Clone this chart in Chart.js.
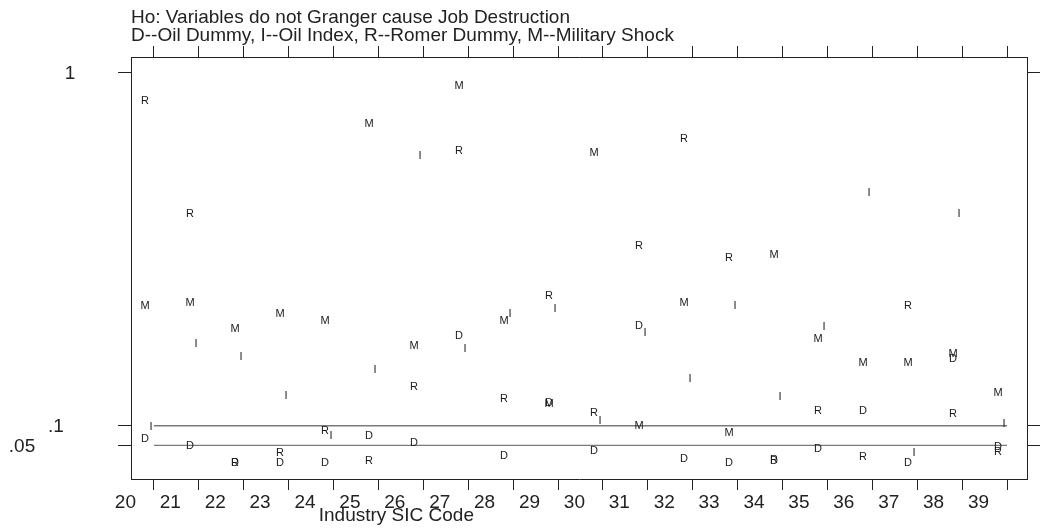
<!DOCTYPE html>
<html lang="en">
<head>
  <meta charset="UTF-8" />
  <title>Granger causality tests by industry</title>
  <script src="https://cdn.jsdelivr.net/npm/chart.js"></script>
  <style>
    html, body { margin: 0; padding: 0; background: #fff; }
    #wrap { width: 1045px; height: 529px; position: relative; }
  </style>
</head>
<body>
  <div id="wrap"><canvas id="chart"></canvas></div>

  <script>
    // values
    const sicCodes = [20, 21, 22, 23, 24, 25, 26, 27, 28, 29, 30, 31, 32, 33, 34, 35, 36, 37, 38, 39];
    const oilDummy      = [.068, .052, .008, .008, .008, .077, .059, .331, .025, .161, .037, .356, .018, .008, .012, .043, .140, .008, .272, .048];
    const oilIndex      = [.100, .311, .278, .178, .076, .244, .789, .298, .388, .400, .115, .340, .222, .407, .177, .354, .695, .033, .641, .107];
    const romerDummy    = [.929, .642, .008, .033, .089, .012, .201, .803, .171, .433, .136, .561, .833, .530, .015, .140, .022, .407, .132, .036];
    const militaryShock = [.407, .415, .349, .388, .369, .872, .306, .968, .369, .157, .797, .102, .415, .084, .537, .323, .262, .262, .286, .186];
    const refLevels = [0.1, 0.05];
    const yTickValues = [1, 0.1, 0.05];
    const yTickLabels = ['1', '.1', '.05'];
    const titleLines = [
      'Ho: Variables do not Granger cause Job Destruction',
      'D--Oil Dummy, I--Oil Index, R--Romer Dummy, M--Military Shock'
    ];
    const xTitle = 'Industry SIC Code';

    // look
    const FONT = '"Liberation Sans", Arial, sans-serif';
    const INK = '#222';
    const yLabelX = [70, 56, 22];

    function pts(vals) {
      return sicCodes.map((s, i) => ({ x: s, y: vals[i] }));
    }

    // marker letter and its nudge left of the point, as in the original
    function letterSet(label, ch, vals, dx) {
      return {
        label, data: pts(vals), showLine: false,
        pointStyle: false, pointRadius: 5, order: 1,
        marker: ch, markerDx: dx
      };
    }

    function refLine(v) {
      return {
        label: 'ref ' + v,
        data: [{ x: sicCodes[0], y: v }, { x: sicCodes[sicCodes.length - 1], y: v }],
        showLine: true, pointRadius: 0, borderColor: '#7a7a7a', borderWidth: 1.3, order: 2
      };
    }

    // letters sit on the points the library placed
    const letterPlugin = {
      id: 'letterPlugin',
      afterDatasetsDraw(chart) {
        const ctx = chart.ctx;
        ctx.save();
        ctx.font = '11px ' + FONT;
        ctx.fillStyle = '#1a1a1a';
        ctx.textAlign = 'center';
        ctx.textBaseline = 'alphabetic';
        chart.data.datasets.forEach((ds, i) => {
          if (!ds.marker) return;
          chart.getDatasetMeta(i).data.forEach(pt => {
            ctx.fillText(ds.marker, Math.round(pt.x + ds.markerDx), Math.round(pt.y + 4));
          });
        });
        ctx.restore();
      }
    };

    const textPlugin = {
      id: 'textPlugin',
      afterDraw(chart) {
        const ctx = chart.ctx;
        const ys = chart.scales.y;
        const xs = chart.scales.x;
        ctx.save();
        ctx.fillStyle = INK;
        ctx.font = '19px ' + FONT;
        ctx.textBaseline = 'middle';
        ctx.textAlign = 'left';
        titleLines.forEach((t, i) => ctx.fillText(t, chart.chartArea.left, 18 + i * 18));
        ctx.textAlign = 'center';
        yTickValues.forEach((v, i) => ctx.fillText(yTickLabels[i], yLabelX[i], ys.getPixelForValue(v) + 1));
        ctx.fillText(xTitle, xs.getPixelForValue(25.4), 516);
        ctx.restore();
      }
    };

    const xRange = { min: 19.49, max: 39.445 };
    const yRange = { min: -0.0357, max: 1.0397 };
    const gridStyle = len => ({ drawOnChartArea: false, drawTicks: true, tickLength: len, color: INK, tickWidth: 1 });
    const borderStyle = { display: true, color: INK, width: 1 };

    new Chart(document.getElementById('chart'), {
      type: 'scatter',
      data: {
        datasets: [
          letterSet('Oil Dummy', 'D', oilDummy, -9),
          letterSet('Oil Index', 'I', oilIndex, -3),
          letterSet('Romer Dummy', 'R', romerDummy, -9),
          letterSet('Military Shock', 'M', militaryShock, -9),
          ...refLevels.map(refLine)
        ]
      },
      options: {
        responsive: true,
        maintainAspectRatio: false,
        devicePixelRatio: 1,
        animation: false,
        events: [],
        layout: { padding: 0 },
        plugins: { legend: { display: false }, tooltip: { enabled: false } },
        scales: {
          x: {
            type: 'linear', position: 'bottom', bounds: 'data', ...xRange,
            afterBuildTicks: ax => { ax.ticks = sicCodes.map(v => ({ value: v })); },
            afterFit: ax => { ax.height = 50; },
            grid: gridStyle(11),
            border: borderStyle,
            ticks: {
              autoSkip: false, maxRotation: 0, minRotation: 0, labelOffset: -28.5, padding: 1,
              color: INK, font: { family: FONT, size: 19 }, callback: v => String(v)
            }
          },
          xTop: {
            type: 'linear', position: 'top', bounds: 'data', ...xRange,
            afterBuildTicks: ax => { ax.ticks = sicCodes.map(v => ({ value: v })); },
            afterFit: ax => { ax.height = 57; },
            grid: gridStyle(11),
            border: borderStyle,
            ticks: { display: false }
          },
          y: {
            type: 'linear', position: 'left', bounds: 'data', ...yRange,
            afterBuildTicks: ax => { ax.ticks = yTickValues.map(v => ({ value: v })); },
            afterFit: ax => { ax.width = 131; },
            grid: gridStyle(13),
            border: borderStyle,
            ticks: { display: false }
          },
          yRight: {
            type: 'linear', position: 'right', bounds: 'data', ...yRange,
            afterBuildTicks: ax => { ax.ticks = yTickValues.map(v => ({ value: v })); },
            afterFit: ax => { ax.width = 18; },
            grid: gridStyle(13),
            border: borderStyle,
            ticks: { display: false }
          }
        }
      },
      plugins: [letterPlugin, textPlugin]
    });
  </script>
</body>
</html>
